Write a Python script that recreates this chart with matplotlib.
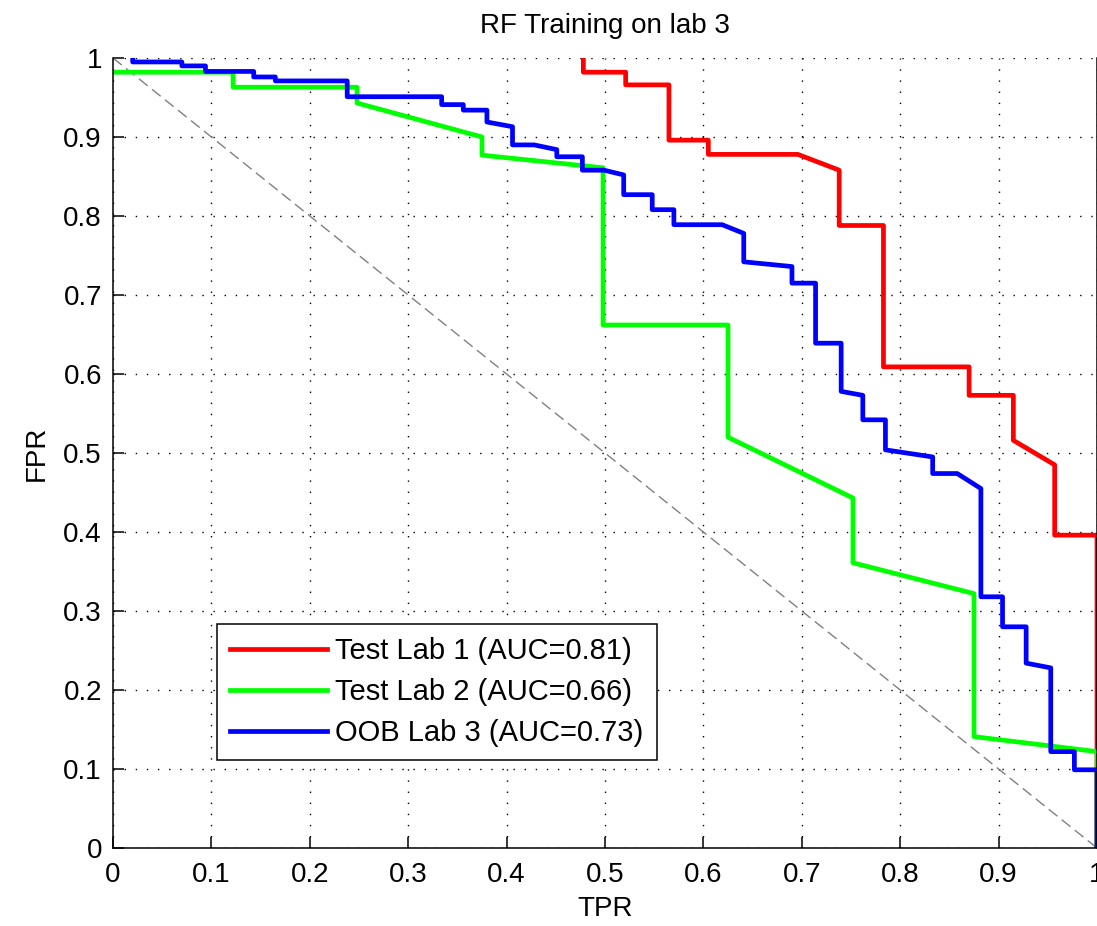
import matplotlib
matplotlib.use('Agg')
import matplotlib.pyplot as plt
import numpy as np

plt.rcParams['font.family'] = ['Liberation Sans', 'DejaVu Sans']

# ROC curve vertices (x = TPR, y = FPR)
lab1_x = [0.478, 0.478, 0.521, 0.521, 0.565, 0.565, 0.605, 0.605, 0.696, 0.738, 0.738,
          0.783, 0.783, 0.870, 0.870, 0.915, 0.915, 0.957, 0.957, 1.0, 1.0]
lab1_y = [1.0, 0.982, 0.982, 0.966, 0.966, 0.896, 0.896, 0.878, 0.878, 0.858, 0.788,
          0.788, 0.609, 0.609, 0.573, 0.573, 0.516, 0.485, 0.396, 0.396, 0.0]

lab2_x = [0.0, 0.122, 0.122, 0.248, 0.248, 0.375, 0.375, 0.498, 0.498, 0.625, 0.625,
          0.752, 0.752, 0.875, 0.875, 1.0, 1.0]
lab2_y = [0.982, 0.982, 0.963, 0.963, 0.943, 0.900, 0.877, 0.861, 0.662, 0.662, 0.520,
          0.443, 0.361, 0.322, 0.141, 0.122, 0.0]

oob3_x = [0.02, 0.02, 0.070, 0.070, 0.094, 0.094, 0.143, 0.143, 0.165, 0.165, 0.238,
          0.238, 0.334, 0.334, 0.356, 0.356, 0.380, 0.380, 0.406, 0.406, 0.428, 0.451,
          0.451, 0.477, 0.477, 0.499, 0.519, 0.519, 0.548, 0.548, 0.570, 0.570, 0.619,
          0.641, 0.641, 0.690, 0.690, 0.714, 0.714, 0.740, 0.740, 0.762, 0.762, 0.785,
          0.785, 0.833, 0.833, 0.858, 0.882, 0.882, 0.904, 0.904, 0.928, 0.928, 0.953,
          0.953, 0.977, 0.977, 1.0, 1.0]
oob3_y = [1.0, 0.995, 0.995, 0.990, 0.990, 0.983, 0.983, 0.976, 0.976, 0.971, 0.971,
          0.951, 0.951, 0.941, 0.941, 0.934, 0.934, 0.919, 0.913, 0.890, 0.890, 0.884,
          0.875, 0.875, 0.858, 0.858, 0.852, 0.827, 0.827, 0.808, 0.808, 0.789, 0.789,
          0.778, 0.742, 0.736, 0.715, 0.715, 0.639, 0.639, 0.578, 0.573, 0.542, 0.542,
          0.504, 0.495, 0.474, 0.474, 0.455, 0.318, 0.318, 0.280, 0.280, 0.234, 0.228,
          0.122, 0.122, 0.099, 0.099, 0.0]

labels = ['Test Lab 1 (AUC=0.81)', 'Test Lab 2 (AUC=0.66)', 'OOB Lab 3 (AUC=0.73)']
ticks = np.round(np.arange(0, 1.01, 0.1), 1)

fig = plt.figure(figsize=(10.97, 9.26), dpi=100)
ax = fig.add_axes([113 / 1097, 78 / 926, 984 / 1097, 790 / 926])

# chance diagonal
ax.plot([0, 1], [1, 0], color='#808080', lw=1.0, ls=(0, (8, 4)))

ax.plot(lab1_x, lab1_y, color='#ff0000', lw=3.4, label=labels[0])
ax.plot(lab2_x, lab2_y, color='#00ff00', lw=3.4, label=labels[1])
ax.plot(oob3_x, oob3_y, color='#0000ff', lw=3.4, label=labels[2])

ax.set_xlim(0, 1)
ax.set_ylim(0, 1)
ax.set_xticks(ticks)
ax.set_yticks(ticks)
ax.set_xticklabels(['%g' % t for t in ticks])
ax.set_yticklabels(['%g' % t for t in ticks])
ax.tick_params(direction='in', length=8, width=1.1, labelsize=20, pad=10)
ax.tick_params(axis='y', pad=8)

ax.grid(True, color='black', lw=1.0, ls=(0, (1, 7)))
ax.spines['top'].set_visible(False)
for s in ['left', 'bottom', 'right']:
    ax.spines[s].set_linewidth(1.1)

ax.set_title('RF Training on lab 3', fontsize=20, pad=18)
ax.set_xlabel('TPR', fontsize=20, labelpad=6)
ax.set_ylabel('FPR', fontsize=20, labelpad=10)

leg = ax.legend(loc='lower left', bbox_to_anchor=(0.106, 0.111), borderaxespad=0,
                fontsize=21, fancybox=False, framealpha=1, edgecolor='black',
                handlelength=3.3, handletextpad=0.3, labelspacing=0.45,
                borderpad=0.45)
leg.get_frame().set_linewidth(1.1)

fig.savefig('out.png', dpi=100)
